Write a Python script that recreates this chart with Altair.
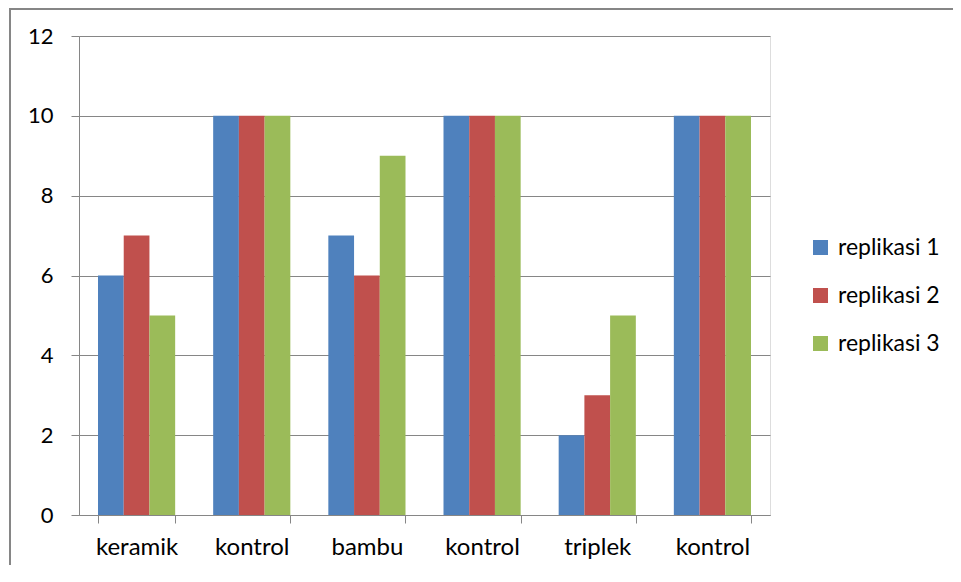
import altair as alt
import pandas as pd

categories = ["keramik", "kontrol1", "bambu", "kontrol2", "triplek", "kontrol3"]
series_names = ["replikasi 1", "replikasi 2", "replikasi 3"]
rep1 = [6, 10, 7, 10, 2, 10]
rep2 = [7, 10, 6, 10, 3, 10]
rep3 = [5, 10, 9, 10, 5, 10]
colors = ["#4F81BD", "#C0504D", "#9BBB59"]
y_ticks = [0, 2, 4, 6, 8, 10, 12]

rows = []
for name, vals in zip(series_names, [rep1, rep2, rep3]):
    for c, v in zip(categories, vals):
        rows.append({"kategori": c, "seri": name, "nilai": v})
df = pd.DataFrame(rows)

FONT = "Lato"
GRID = "#868686"

bars = alt.Chart(df).mark_bar(strokeWidth=0).encode(
    x=alt.X("kategori:N", sort=categories, title=None,
            scale=alt.Scale(paddingInner=0.33, paddingOuter=0.165),
            axis=alt.Axis(labelAngle=0, tickBand="extent", tickSize=8, tickColor=GRID,
                          domainColor=GRID, labelPadding=12, labelFontSize=24,
                          labelFont=FONT, labelColor="black", grid=False,
                          labelExpr="indexof(datum.label, 'kontrol') == 0 ? 'kontrol' : datum.label")),
    xOffset=alt.XOffset("seri:N", sort=series_names, scale=alt.Scale(paddingInner=0, paddingOuter=0)),
    y=alt.Y("nilai:Q", title=None,
            scale=alt.Scale(domain=[0, 12], nice=False),
            axis=alt.Axis(values=y_ticks, tickSize=8, tickColor=GRID, domainColor=GRID,
                          gridColor=GRID, labelPadding=18, labelFontSize=22,
                          labelFont=FONT, labelColor="black")),
    color=alt.Color("seri:N", sort=series_names,
                    scale=alt.Scale(domain=series_names, range=colors),
                    legend=alt.Legend(title=None, orient="none", legendX=730, legendY=200,
                                      symbolType="square", symbolSize=225, symbolStrokeWidth=0,
                                      labelFontSize=23, labelFont=FONT, labelColor="black",
                                      rowPadding=24, labelOffset=6)),
)

frame = alt.Data(values=[{}])
border_top = alt.Chart(frame).mark_rule(stroke=GRID, strokeWidth=2).encode(
    x=alt.value(-70), x2=alt.value(874), y=alt.value(-27),
)
border_left = alt.Chart(frame).mark_rule(stroke=GRID, strokeWidth=2).encode(
    x=alt.value(-69), y=alt.value(-28), y2=alt.value(529),
)

chart = alt.layer(border_top, border_left, bars).properties(
    width=691, height=479,
    autosize=alt.AutoSizeParams(type="none"),
    padding={"left": 71, "top": 28, "right": 183, "bottom": 50},
).configure_view(stroke=None).configure(background="white")

chart.save("out.html", embed_options={"renderer": "svg", "actions": False})
